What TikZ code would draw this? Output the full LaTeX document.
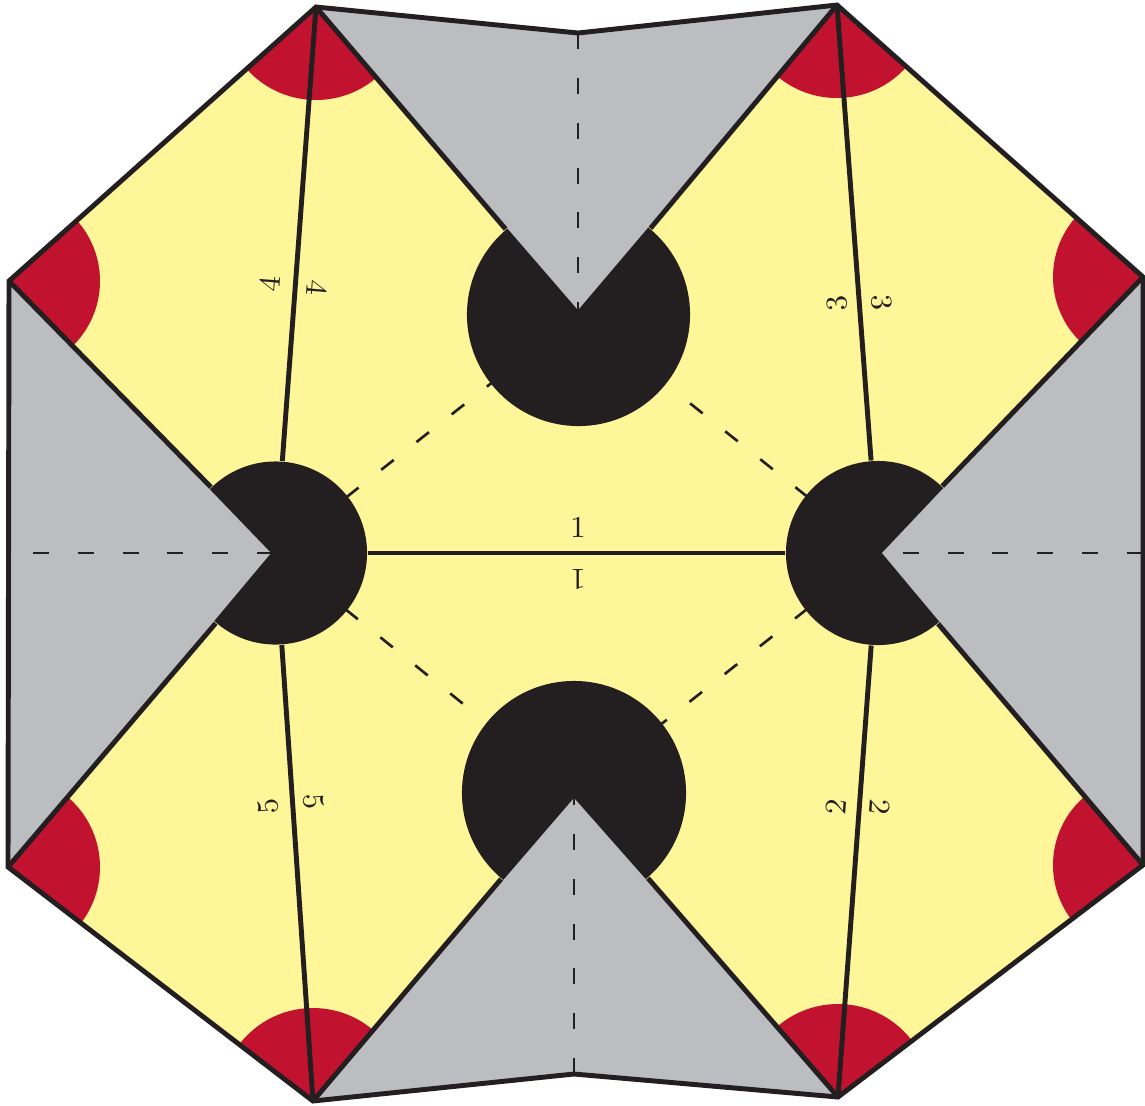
\documentclass[tikz,border=0pt]{standalone}
\usepackage{amsmath}
\usetikzlibrary{positioning}
\definecolor{inkblack}{HTML}{231F20}
\definecolor{paleyellow}{HTML}{FFF599}
\definecolor{flapgray}{HTML}{BBBDC0}
\definecolor{cornerred}{HTML}{C1122F}
\tikzset{
  hub/.style={circle, fill=inkblack, inner sep=0pt, minimum size=#1},
  edgeline/.style={inkblack, line width=1.4pt},
  foldline/.style={inkblack, line width=0.75pt, dash pattern=on 4.55pt off 8.2pt},
  foldnum/.style={font=\fontsize{8.6}{10}\selectfont, text=inkblack, inner sep=0pt},
}

\begin{document}
\begin{tikzpicture}[x=0.01cm, y=-0.01cm]
  \useasboundingbox (0,0) rectangle (1145,1105);
  % outer corners
  \coordinate (cA) at (316,7);
  \coordinate (cB) at (837,5);
  \coordinate (cC) at (1143,277);
  \coordinate (cD) at (1143,865);
  \coordinate (cE) at (838,1097);
  \coordinate (cF) at (313,1101);
  \coordinate (cG) at (8,867);
  \coordinate (cH) at (9,281);
  % flap middles and tips
  \coordinate (midT) at (578,33);
  \coordinate (midB) at (574,1074);
  \coordinate (midL) at (8,553);
  \coordinate (midR) at (1143,553);
  \coordinate (tipT) at (578,310);
  \coordinate (tipB) at (574,798);
  \coordinate (tipL) at (271,553);
  \coordinate (tipR) at (882,553);

  \fill[paleyellow] (cA) -- (midT) -- (cB) -- (cC) -- (cD) -- (cE) -- (midB) -- (cF)
    -- (cG) -- (cH) -- cycle;
  \begin{scope}
    \clip (cA) -- (midT) -- (cB) -- (cC) -- (cD) -- (cE) -- (midB) -- (cF)
      -- (cG) -- (cH) -- cycle;
    \foreach \c/\r in {cA/93,cB/93,cC/90,cD/90,cE/93,cF/93,cG/92,cH/91}
      \fill[cornerred] (\c) circle (\r);
  \end{scope}

  \node[hub=2.23cm] (hubT) at (578.5,314.5) {};
  \node[hub=2.24cm] (hubB) at (574,793) {};
  \node[hub=1.83cm] (hubL) at (275.5,553) {};
  \node[hub=1.84cm] (hubR) at (878,553) {};

  \fill[flapgray] (cA) -- (midT) -- (cB) -- (tipT) -- cycle;
  \fill[flapgray] (cC) -- (cD) -- (tipR) -- cycle;
  \fill[flapgray] (cE) -- (midB) -- (cF) -- (tipB) -- cycle;
  \fill[flapgray] (cG) -- (cH) -- (tipL) -- cycle;

  % dashed folds
  \draw[foldline] (midT) -- (tipT);
  \draw[foldline] (midB) -- (tipB);
  \draw[foldline] (midR) -- (tipR);
  \draw[foldline, dash phase=5.67pt] (midL) -- (tipL);
  \draw[foldline] (hubL.center) -- (hubT.center);
  \draw[foldline, shorten >=1.2cm] (hubR.center) -- (hubT.center);
  \draw[foldline, shorten >=1.2cm] (hubL.center) -- (hubB.center);
  \draw[foldline] (hubR.center) -- (hubB.center);

  % solid folds
  \draw[edgeline] (hubL) -- (hubR);
  \draw[edgeline] (cA) -- (hubL);
  \draw[edgeline] (cB) -- (hubR);
  \draw[edgeline] (cE) -- (hubR);
  \draw[edgeline] (cF) -- (hubL);
  \foreach \c/\h in {cA/hubT,cB/hubT,cC/hubR,cD/hubR,cE/hubB,cF/hubB,cG/hubL,cH/hubL}
    \draw[edgeline] (\c) -- (\h);
  \draw[edgeline, line join=miter] (cA) -- (midT) -- (cB) -- (cC) -- (cD) -- (cE)
    -- (midB) -- (cF) -- (cG) -- (cH) -- cycle;

  % labels
  \foreach \n/\t/\x/\y/\a in {oneA/1/578/527/0, oneB/1/578/580/180,
      twoA/2/836/807/85.6, twoB/2/880/807/-94.4,
      threeA/3/837/303/94.4, threeB/3/882/302/-85.6,
      fourA/4/270/284/85.6, fourB/4/317/288/-94.4,
      fiveA/5/268/806/94, fiveB/5/314/802/-86}
    \node[foldnum, rotate=\a] (\n) at (\x,\y) {\t};
\end{tikzpicture}
\end{document}
